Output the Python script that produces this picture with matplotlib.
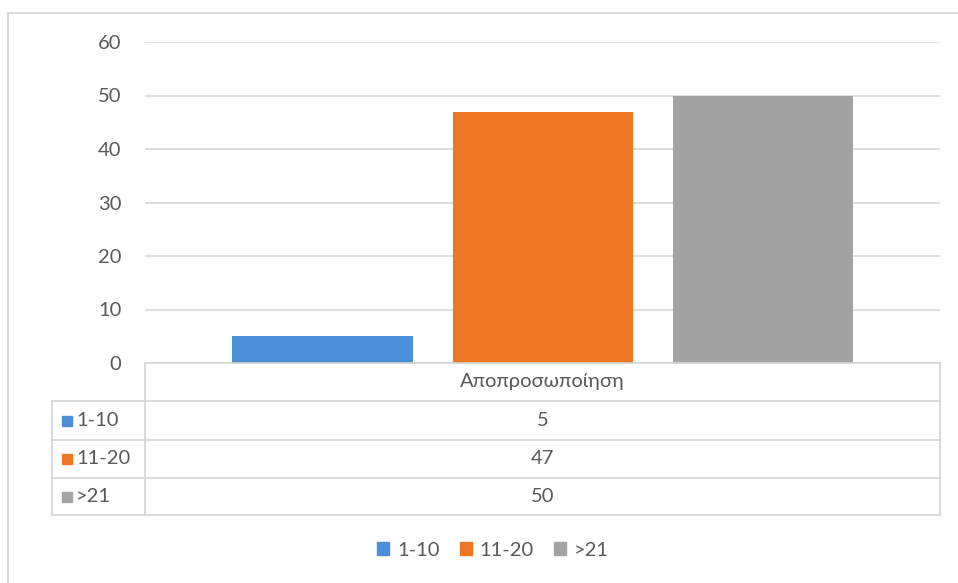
import matplotlib
matplotlib.use("Agg")
import matplotlib.pyplot as plt
from matplotlib.patches import Rectangle
from matplotlib.lines import Line2D

plt.rcParams['font.family'] = ['Lato', 'DejaVu Sans']

category = "Αποπροσωποίηση"
series = ["1-10", "11-20", ">21"]
values = [5, 47, 50]
colors = ["#4A8FD8", "#EE7623", "#A3A3A3"]
yticks = [0, 10, 20, 30, 40, 50, 60]

W, H = 958, 583
fig = plt.figure(figsize=(W / 100, H / 100), dpi=100)
FS = 14.5

def fx(x):
    return x / W

def fy(y):
    return 1 - y / H

# plot area
L, R, T, B = 145, 940, 42, 363
ax = fig.add_axes([fx(L), fy(B), fx(R) - fx(L), fy(T) - fy(B)])
ax.set_xlim(0, 1)
ax.set_ylim(0, 60)
bar_w = 180 / (R - L)
gap = 40 / (R - L)
n = len(values)
total = n * bar_w + (n - 1) * gap
start = 0.5 - total / 2
for i, (v, c) in enumerate(zip(values, colors)):
    ax.bar(start + i * (bar_w + gap) + bar_w / 2, v, width=bar_w, color=c, zorder=3)
ax.set_yticks(yticks)
ax.set_yticklabels([str(t) for t in yticks], fontsize=FS, color="#595959")
ax.tick_params(axis='y', length=0, pad=17)
ax.set_xticks([])
ax.grid(axis='y', color="#D9D9D9", linewidth=1.2, zorder=0)
for s in ax.spines.values():
    s.set_visible(False)

line_c = "#D4D4D4"

def hline(y, x0, x1):
    fig.add_artist(Line2D([fx(x0), fx(x1)], [fy(y), fy(y)], color=line_c, lw=1.2))

def vline(x, y0, y1):
    fig.add_artist(Line2D([fx(x), fx(x)], [fy(y0), fy(y1)], color=line_c, lw=1.2))

# outer frame (top and left)
hline(13, 8, 958)
vline(8, 13, 583)

# data table
rows_y = [363, 401, 440, 478, 515]
lab_x0 = 52
hline(rows_y[0], L, R)
for y in rows_y[1:]:
    hline(y, lab_x0, R)
vline(L, rows_y[0], rows_y[-1])
vline(R, rows_y[0], rows_y[-1])
vline(lab_x0, rows_y[1], rows_y[-1])

fig.text(fx((L + R) / 2), fy((rows_y[0] + rows_y[1]) / 2), category,
         ha='center', va='center', fontsize=FS, color="#595959")
for i, (s, v, c) in enumerate(zip(series, values, colors)):
    yc = (rows_y[i + 1] + rows_y[i + 2]) / 2
    fig.add_artist(Rectangle((fx(62), fy(yc + 5)), fx(10), fy(0) - fy(10),
                             color=c, transform=fig.transFigure))
    fig.text(fx(76), fy(yc), s, ha='left', va='center', fontsize=FS, color="#595959")
    fig.text(fx((L + R) / 2), fy(yc), str(v), ha='center', va='center',
             fontsize=FS, color="#595959")

# legend
handles = [Rectangle((0, 0), 1, 1, color=c) for c in colors]
fig.legend(handles, series, loc='center', bbox_to_anchor=(fx(493), fy(550)),
           ncol=3, frameon=False, fontsize=FS, handlelength=0.6, handleheight=0.6,
           handletextpad=0.4, columnspacing=1.0, labelcolor="#595959")

fig.savefig("out.png", dpi=100)
